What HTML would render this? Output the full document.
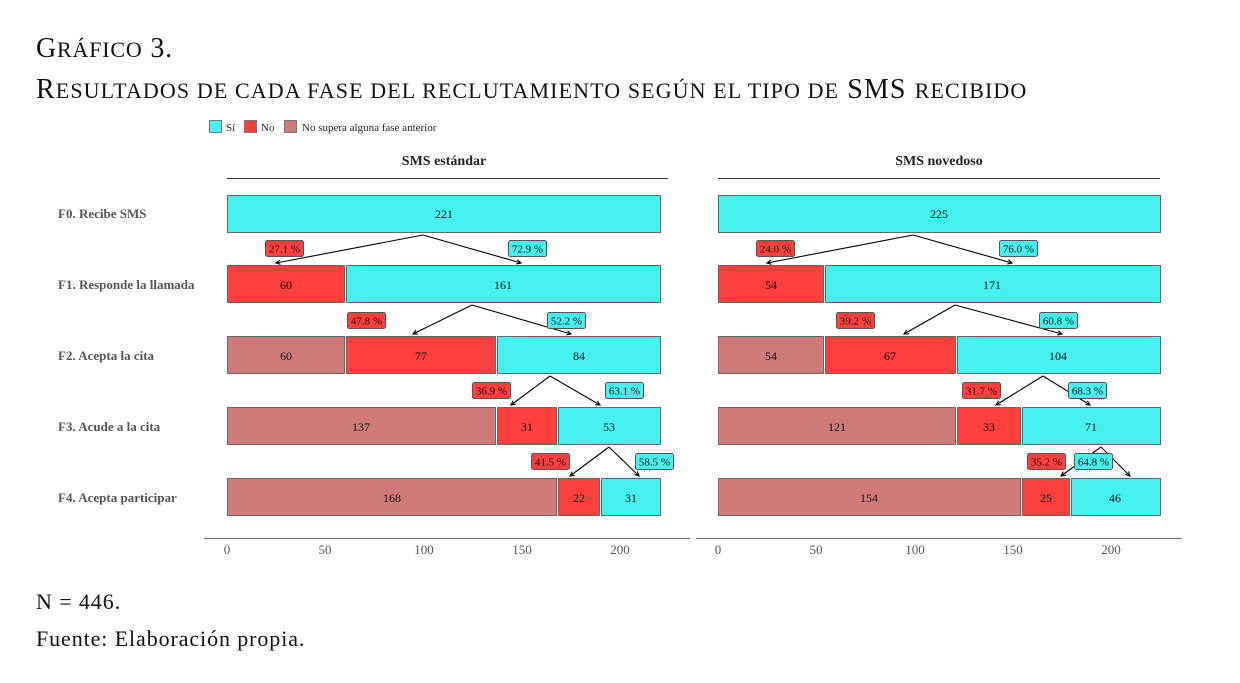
<!DOCTYPE html>
<html><head><meta charset="utf-8"><style>
body{margin:0;background:#fff;}
svg{display:block;font-family:"Liberation Serif",serif;}
</style></head><body>
<svg width="1240" height="683" viewBox="0 0 1240 683" xmlns="http://www.w3.org/2000/svg">
<defs><marker id="a" markerWidth="5" markerHeight="5" refX="4" refY="2.5" orient="auto"><path d="M0,0.5 L4,2.5 L0,4.5" fill="none" stroke="#000" stroke-width="1"/></marker></defs>
<text x="36" y="57" font-size="28" fill="#111" letter-spacing="0.8">G<tspan font-size="22">RÁFICO</tspan> 3.</text>
<text x="36" y="98" font-size="28" fill="#111" letter-spacing="1.1">R<tspan font-size="22">ESULTADOS DE CADA FASE DEL RECLUTAMIENTO SEGÚN EL TIPO DE</tspan> SMS <tspan font-size="22">RECIBIDO</tspan></text>
<g font-size="11" fill="#222">
<rect x="209.5" y="120.5" width="12" height="12" fill="#45F2F0" stroke="#777"/><text x="226" y="131">Sí</text>
<rect x="244.5" y="120.5" width="12" height="12" fill="#FF3E3E" stroke="#777"/><text x="261" y="131">No</text>
<rect x="284.5" y="120.5" width="12" height="12" fill="#D07A7A" stroke="#777"/><text x="302" y="131">No supera alguna fase anterior</text>
</g>
<g font-size="14" font-weight="bold" fill="#222" text-anchor="middle">
<text x="444" y="165">SMS estándar</text><text x="939" y="165">SMS novedoso</text>
</g>
<line x1="227" y1="178.5" x2="668" y2="178.5" stroke="#333"/>
<line x1="718" y1="178.5" x2="1160" y2="178.5" stroke="#333"/>
<g font-size="13" font-weight="bold" fill="#555">
<text x="58" y="218">F0. Recibe SMS</text>
<text x="58" y="289">F1. Responde la llamada</text>
<text x="58" y="360">F2. Acepta la cita</text>
<text x="58" y="431">F3. Acude a la cita</text>
<text x="58" y="502">F4. Acepta participar</text>
</g>
<g stroke="#666" stroke-width="1">
<rect x="227.5" y="195.5" width="433" height="37" fill="#45F2F0"/>
<rect x="227.5" y="265.5" width="117" height="37" fill="#FF3E3E"/>
<rect x="346.5" y="265.5" width="314" height="37" fill="#45F2F0"/>
<rect x="227.5" y="336.5" width="117" height="37" fill="#D07A7A"/>
<rect x="346.5" y="336.5" width="149" height="37" fill="#FF3E3E"/>
<rect x="497.5" y="336.5" width="163" height="37" fill="#45F2F0"/>
<rect x="227.5" y="407.5" width="268" height="37" fill="#D07A7A"/>
<rect x="497.5" y="407.5" width="59" height="37" fill="#FF3E3E"/>
<rect x="558.5" y="407.5" width="102" height="37" fill="#45F2F0"/>
<rect x="227.5" y="478.5" width="329" height="37" fill="#D07A7A"/>
<rect x="558.5" y="478.5" width="41" height="37" fill="#FF3E3E"/>
<rect x="601.5" y="478.5" width="59" height="37" fill="#45F2F0"/>
<rect x="718.5" y="195.5" width="442" height="37" fill="#45F2F0"/>
<rect x="718.5" y="265.5" width="105" height="37" fill="#FF3E3E"/>
<rect x="825.5" y="265.5" width="335" height="37" fill="#45F2F0"/>
<rect x="718.5" y="336.5" width="105" height="37" fill="#D07A7A"/>
<rect x="825.5" y="336.5" width="130" height="37" fill="#FF3E3E"/>
<rect x="957.5" y="336.5" width="203" height="37" fill="#45F2F0"/>
<rect x="718.5" y="407.5" width="237" height="37" fill="#D07A7A"/>
<rect x="957.5" y="407.5" width="63" height="37" fill="#FF3E3E"/>
<rect x="1022.5" y="407.5" width="138" height="37" fill="#45F2F0"/>
<rect x="718.5" y="478.5" width="302" height="37" fill="#D07A7A"/>
<rect x="1022.5" y="478.5" width="47" height="37" fill="#FF3E3E"/>
<rect x="1071.5" y="478.5" width="89" height="37" fill="#45F2F0"/>
</g>
<g font-size="12" fill="#111" text-anchor="middle">
<text x="444" y="218">221</text>
<text x="286" y="289">60</text><text x="503" y="289">161</text>
<text x="286" y="360">60</text><text x="421" y="360">77</text><text x="579" y="360">84</text>
<text x="361" y="431">137</text><text x="527" y="431">31</text><text x="609" y="431">53</text>
<text x="392" y="502">168</text><text x="579" y="502">22</text><text x="631" y="502">31</text>
<text x="939" y="218">225</text>
<text x="771" y="289">54</text><text x="992" y="289">171</text>
<text x="771" y="360">54</text><text x="890" y="360">67</text><text x="1058" y="360">104</text>
<text x="837" y="431">121</text><text x="989" y="431">33</text><text x="1091" y="431">71</text>
<text x="869" y="502">154</text><text x="1046" y="502">25</text><text x="1115" y="502">46</text>
</g>
<g stroke="#000" stroke-width="1.1" fill="none" marker-end="url(#a)">
<path d="M423,235 L276,263"/><path d="M423,235 L521,263"/>
<path d="M472,305 L413,334"/><path d="M472,305 L571,334"/>
<path d="M550,376 L511,405"/><path d="M550,376 L600,405"/>
<path d="M609,447 L570,476"/><path d="M609,447 L639,476"/>
<path d="M913,235 L767,263"/><path d="M913,235 L1012,263"/>
<path d="M955,305 L904,334"/><path d="M955,305 L1062,334"/>
<path d="M1043,376 L996,405"/><path d="M1043,376 L1090,405"/>
<path d="M1101,447 L1061,476"/><path d="M1101,447 L1130,476"/>
</g>
<g font-size="11" text-anchor="middle" fill="#111">
<g stroke="#555" stroke-width="1">
<rect x="265.5" y="240.5" width="38" height="16" rx="2" fill="#FF3E3E"/>
<rect x="508.5" y="240.5" width="38" height="16" rx="2" fill="#45F2F0"/>
<rect x="347.5" y="312.5" width="38" height="16" rx="2" fill="#FF3E3E"/>
<rect x="547.5" y="312.5" width="38" height="16" rx="2" fill="#45F2F0"/>
<rect x="472.5" y="382.5" width="38" height="16" rx="2" fill="#FF3E3E"/>
<rect x="605.5" y="382.5" width="38" height="16" rx="2" fill="#45F2F0"/>
<rect x="531.5" y="453.5" width="38" height="16" rx="2" fill="#FF3E3E"/>
<rect x="635.5" y="453.5" width="38" height="16" rx="2" fill="#45F2F0"/>
<rect x="756.5" y="240.5" width="38" height="16" rx="2" fill="#FF3E3E"/>
<rect x="999.5" y="240.5" width="38" height="16" rx="2" fill="#45F2F0"/>
<rect x="836.5" y="312.5" width="38" height="16" rx="2" fill="#FF3E3E"/>
<rect x="1039.5" y="312.5" width="38" height="16" rx="2" fill="#45F2F0"/>
<rect x="962.5" y="382.5" width="38" height="16" rx="2" fill="#FF3E3E"/>
<rect x="1068.5" y="382.5" width="38" height="16" rx="2" fill="#45F2F0"/>
<rect x="1027.5" y="453.5" width="38" height="16" rx="2" fill="#FF3E3E"/>
<rect x="1074.5" y="453.5" width="38" height="16" rx="2" fill="#45F2F0"/>
</g>
<text x="284.5" y="252.5">27.1 %</text><text x="527.5" y="252.5">72.9 %</text>
<text x="366.5" y="324.5">47.8 %</text><text x="566.5" y="324.5">52.2 %</text>
<text x="491.5" y="394.5">36.9 %</text><text x="624.5" y="394.5">63.1 %</text>
<text x="550.5" y="465.5">41.5 %</text><text x="654.5" y="465.5">58.5 %</text>
<text x="775.5" y="252.5">24.0 %</text><text x="1018.5" y="252.5">76.0 %</text>
<text x="855.5" y="324.5">39.2 %</text><text x="1058.5" y="324.5">60.8 %</text>
<text x="981.5" y="394.5">31.7 %</text><text x="1087.5" y="394.5">68.3 %</text>
<text x="1046.5" y="465.5">35.2 %</text><text x="1093.5" y="465.5">64.8 %</text>
</g>
<g stroke="#777" stroke-width="1.3">
<line x1="204" y1="538.5" x2="690" y2="538.5"/><line x1="696" y1="538.5" x2="1182" y2="538.5"/>
</g>
<g font-size="13" fill="#555" text-anchor="middle">
<text x="227" y="554">0</text><text x="325" y="554">50</text><text x="424" y="554">100</text><text x="522" y="554">150</text><text x="620" y="554">200</text>
<text x="718" y="554">0</text><text x="816" y="554">50</text><text x="915" y="554">100</text><text x="1013" y="554">150</text><text x="1111" y="554">200</text>
</g>
<text x="36" y="609" font-size="22" fill="#111" letter-spacing="0.9">N = 446.</text>
<text x="36" y="646" font-size="22" fill="#111" letter-spacing="0.9">Fuente: Elaboración propia.</text>
</svg>
</body></html>
